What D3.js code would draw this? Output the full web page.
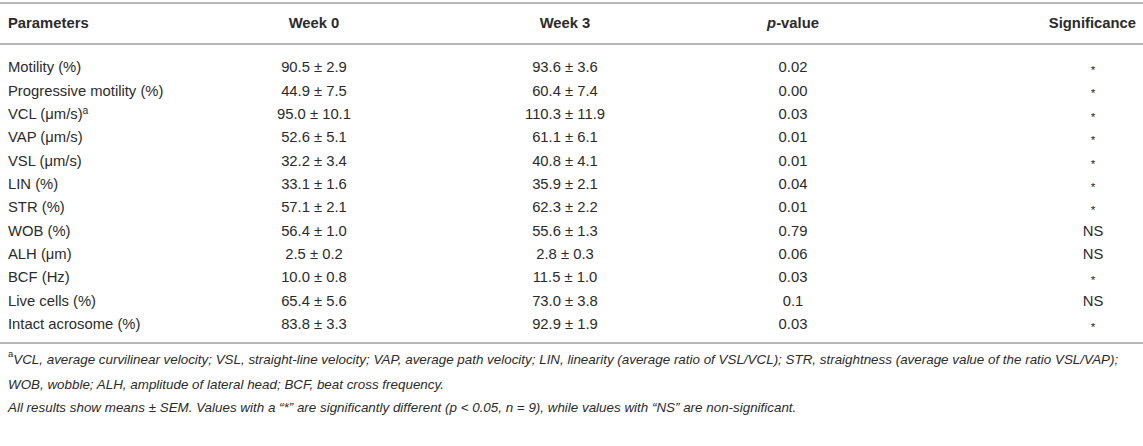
<!DOCTYPE html>
<html><head><meta charset="utf-8">
<script src="https://cdn.jsdelivr.net/npm/d3@7"></script>
<style>
html,body{margin:0;padding:0;background:#fff;}
svg text{font-family:"Liberation Sans",Arial,Helvetica,sans-serif;fill:#2b2b2b;}
</style></head>
<body><svg id="c" width="1143" height="446"></svg>
<script>
const columns = ["Parameters","Week 0","Week 3","p-value","Significance"];
const parameters = ["Motility (%)","Progressive motility (%)","VCL (μm/s)","VAP (μm/s)","VSL (μm/s)","LIN (%)","STR (%)","WOB (%)","ALH (μm)","BCF (Hz)","Live cells (%)","Intact acrosome (%)"];
const paramSup = ["","","a","","","","","","","","",""];
const week0Mean = [90.5,44.9,95.0,52.6,32.2,33.1,57.1,56.4,2.5,10.0,65.4,83.8];
const week0Sem  = [2.9,7.5,10.1,5.1,3.4,1.6,2.1,1.0,0.2,0.8,5.6,3.3];
const week3Mean = [93.6,60.4,110.3,61.1,40.8,35.9,62.3,55.6,2.8,11.5,73.0,92.9];
const week3Sem  = [3.6,7.4,11.9,6.1,4.1,2.1,2.2,1.3,0.3,1.0,3.8,1.9];
const pValues   = ["0.02","0.00","0.03","0.01","0.01","0.04","0.01","0.79","0.06","0.03","0.1","0.03"];
const significance = ["*","*","*","*","*","*","*","NS","NS","*","NS","*"];
const footnotes = [
  ["a","VCL, average curvilinear velocity; VSL, straight-line velocity; VAP, average path velocity; LIN, linearity (average ratio of VSL/VCL); STR, straightness (average value of the ratio VSL/VAP);"],
  ["","WOB, wobble; ALH, amplitude of lateral head; BCF, beat cross frequency."],
  ["","All results show means ± SEM. Values with a \u201c*\u201d are significantly different (p < 0.05, n = 9), while values with \u201cNS\u201d are non-significant."]
];

const W = 1143, H = 446;
const svg = d3.select("#c");
const fs = 14.8;
const fsFn = 13.4;

const rowY = d3.scalePoint().domain(d3.range(parameters.length)).range([67, 324]);
const fnY = d3.scalePoint().domain(d3.range(footnotes.length)).range([362, 407]);

const colX = [8, 314, 565, 793, 1136];
const colAnchor = ["start","middle","middle","middle","end"];
const cellX = [8, 314, 565, 793, 1093];

// rules
const rules = [3, 44, 343];
svg.selectAll("line.rule").data(rules).join("line")
  .attr("x1",0).attr("x2",W).attr("y1",d=>d).attr("y2",d=>d)
  .attr("stroke","#b8b8b8").attr("stroke-width",2);

// header
const hdr = svg.append("g");
columns.forEach((c,i)=>{
  const t = hdr.append("text").attr("x",colX[i]).attr("y",23).attr("dy","0.35em")
    .attr("text-anchor",colAnchor[i]).attr("font-weight","bold").attr("font-size",fs);
  if(c==="p-value"){
    t.append("tspan").attr("font-style","italic").text("p");
    t.append("tspan").text("-value");
  } else t.text(c);
});

const fmt = d3.format(".1f");
const rows = svg.selectAll("g.row").data(parameters).join("g").attr("class","row")
  .attr("transform",(d,i)=>`translate(0,${rowY(i)})`);

rows.append("text").attr("x",cellX[0]).attr("dy","0.35em").attr("font-size",fs)
  .each(function(d,i){
    const t = d3.select(this);
    t.append("tspan").text(d);
    if(paramSup[i]) t.append("tspan").attr("font-size",fs*0.7).attr("dy","-0.5em").text(paramSup[i]);
  });
rows.append("text").attr("x",cellX[1]).attr("text-anchor","middle").attr("dy","0.35em").attr("font-size",fs)
  .text((d,i)=>`${fmt(week0Mean[i])} ± ${fmt(week0Sem[i])}`);
rows.append("text").attr("x",cellX[2]).attr("text-anchor","middle").attr("dy","0.35em").attr("font-size",fs)
  .text((d,i)=>`${fmt(week3Mean[i])} ± ${fmt(week3Sem[i])}`);
rows.append("text").attr("x",cellX[3]).attr("text-anchor","middle").attr("dy","0.35em").attr("font-size",fs)
  .text((d,i)=>pValues[i]);
rows.append("text").attr("x",cellX[4]).attr("text-anchor","middle").attr("dy",(d,i)=>significance[i]==="*"?"0.6em":"0.35em")
  .attr("font-size",(d,i)=>significance[i]==="*"?fs*0.8:fs)
  .text((d,i)=>significance[i]);

// footnotes
svg.selectAll("text.fn").data(footnotes).join("text").attr("class","fn")
  .attr("x",8).attr("y",(d,i)=>fnY(i)).attr("dy","0.35em")
  .attr("font-size",fsFn).attr("font-style","italic")
  .each(function(d){
    const t = d3.select(this);
    if(d[0]){
      t.append("tspan").attr("font-size",fsFn*0.7).attr("dy","-0.5em").attr("font-style","normal").text(d[0]);
      t.append("tspan").attr("dy","0.5em").text(d[1]);
    } else t.text(d[1]);
  });
</script></body></html>
